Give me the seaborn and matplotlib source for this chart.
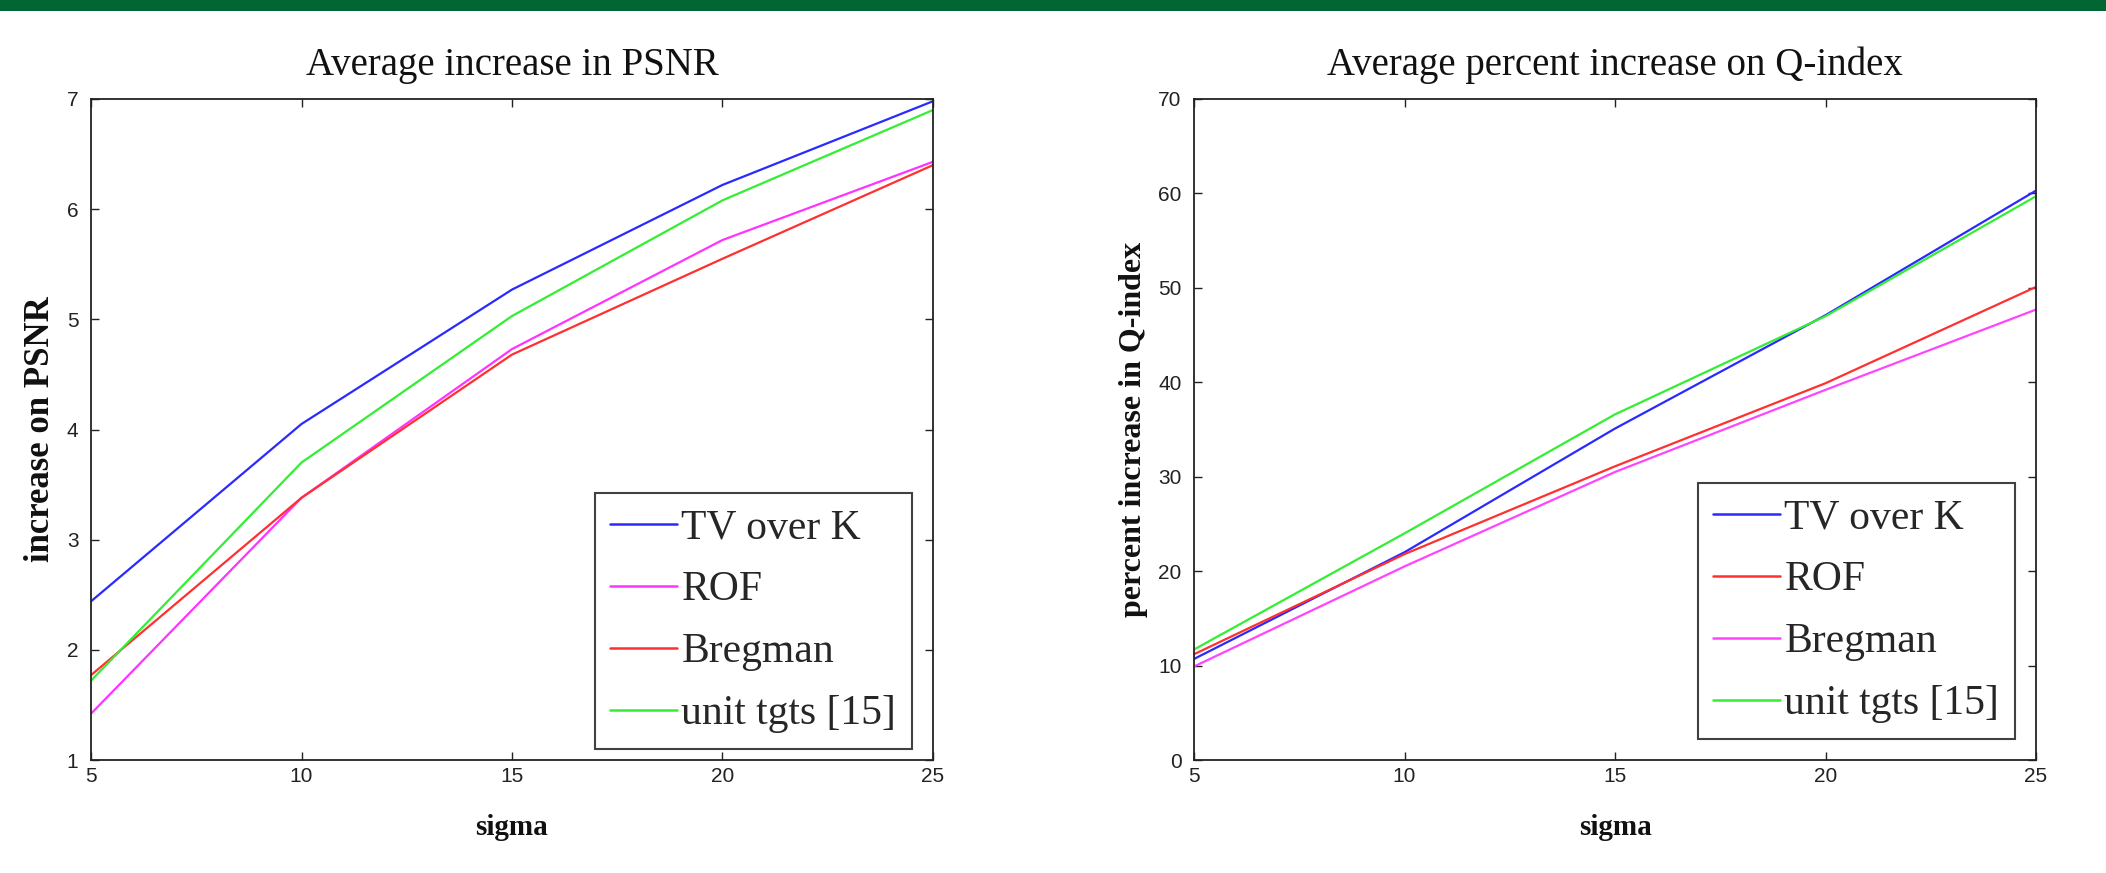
import numpy as np
import pandas as pd
import matplotlib
matplotlib.use("Agg")
import matplotlib.pyplot as plt
import seaborn as sns
from matplotlib.patches import Rectangle

sigma = [5, 10, 15, 20, 25]

# Left panel: average PSNR gain
psnr_tv_over_k = [2.44, 4.05, 5.27, 6.22, 6.98]
psnr_rof = [1.42, 3.38, 4.73, 5.72, 6.43]
psnr_bregman = [1.77, 3.38, 4.68, 5.55, 6.40]
psnr_unit_tgts = [1.72, 3.70, 5.03, 6.08, 6.90]

# Right panel: average percent gain on Q-index
q_tv_over_k = [10.7, 22.0, 35.1, 47.1, 60.3]
q_rof = [11.2, 21.8, 31.1, 39.9, 50.1]
q_bregman = [9.9, 20.5, 30.5, 39.2, 47.7]
q_unit_tgts = [11.7, 24.0, 36.6, 47.0, 59.7]

left_labels = ["TV over K", "ROF", "Bregman", "unit tgts [15]"]
left_colors = ["#2a2aff", "#ff33ff", "#ff3030", "#33ee33"]
right_labels = ["TV over K", "ROF", "Bregman", "unit tgts [15]"]
right_colors = ["#2a2aff", "#ff3030", "#ff44ff", "#33ee33"]

sns.set_theme(style="white")
plt.rcParams["font.family"] = ["Liberation Serif", "DejaVu Serif"]

W, H = 2106, 873
fig = plt.figure(figsize=(W / 100, H / 100), dpi=100)

# Dark green banner along the top edge
fig.patches.append(Rectangle((0, 1 - 11 / H), 1, 11 / H, transform=fig.transFigure,
                             facecolor="#006633", edgecolor="none", zorder=5))


def px_axes(x0, x1, y0, y1):
    return fig.add_axes([x0 / W, 1 - y1 / H, (x1 - x0) / W, (y1 - y0) / H])


ax1 = px_axes(91, 933, 99, 760)
ax2 = px_axes(1194, 2036, 99, 760)

tick_font = ["Liberation Sans Narrow", "Liberation Sans", "DejaVu Sans"]


def draw_panel(ax, series, labels, colors, ylim, yticks, title, ylabel, ylabel_size,
               legend_anchor):
    frames = []
    for vals, lab in zip(series, labels):
        frames.append(pd.DataFrame({"sigma": sigma, "value": vals, "method": lab}))
    df = pd.concat(frames, ignore_index=True)
    sns.lineplot(data=df, x="sigma", y="value", hue="method", hue_order=labels,
                 palette=colors, linewidth=1.6, ax=ax, legend=False)
    ax.set_xlim(5, 25)
    ax.set_ylim(*ylim)
    ax.set_xticks(sigma)
    ax.set_yticks(yticks)
    ax.set_xticklabels([str(v) for v in sigma], family=tick_font, fontsize=15)
    ax.set_yticklabels([str(v) for v in yticks], family=tick_font, fontsize=15)
    ax.tick_params(direction="in", length=6, width=1.0, top=True, right=True,
                   bottom=True, left=True, colors="#222222", labelcolor="#222222", pad=5)
    ax.tick_params(axis="y", pad=9)
    for s in ax.spines.values():
        s.set_color("#222222")
        s.set_linewidth(1.3)
    ax.set_title(title, fontsize=28, pad=17, color="#111111")
    ax.set_xlabel("sigma", fontsize=21, fontweight="bold", labelpad=20, color="#111111")
    ax.set_ylabel(ylabel, fontsize=ylabel_size, fontweight="bold", labelpad=7,
                  color="#111111")
    handles = [plt.Line2D([], [], color=c, linewidth=1.8) for c in colors]
    leg = ax.legend(handles, labels, loc="lower right", bbox_to_anchor=legend_anchor,
                    fontsize=30, frameon=True, fancybox=False, edgecolor="#111111",
                    handlelength=1.6, handletextpad=0.1, labelspacing=0.56,
                    borderpad=0.38, borderaxespad=0.0)
    leg.get_frame().set_linewidth(1.5)
    ax.set_facecolor("white")


draw_panel(ax1, [psnr_tv_over_k, psnr_rof, psnr_bregman, psnr_unit_tgts], left_labels,
           left_colors, (1, 7), [1, 2, 3, 4, 5, 6, 7], "Average increase in PSNR",
           "increase on PSNR", 25, (1 - 21 / 842, 11 / 661))
draw_panel(ax2, [q_tv_over_k, q_rof, q_bregman, q_unit_tgts], right_labels,
           right_colors, (0, 70), [0, 10, 20, 30, 40, 50, 60, 70],
           "Average percent increase on Q-index", "percent increase in Q-index", 23,
           (1 - 21 / 842, 21 / 661))

fig.savefig("out.png", dpi=100, facecolor="white")
